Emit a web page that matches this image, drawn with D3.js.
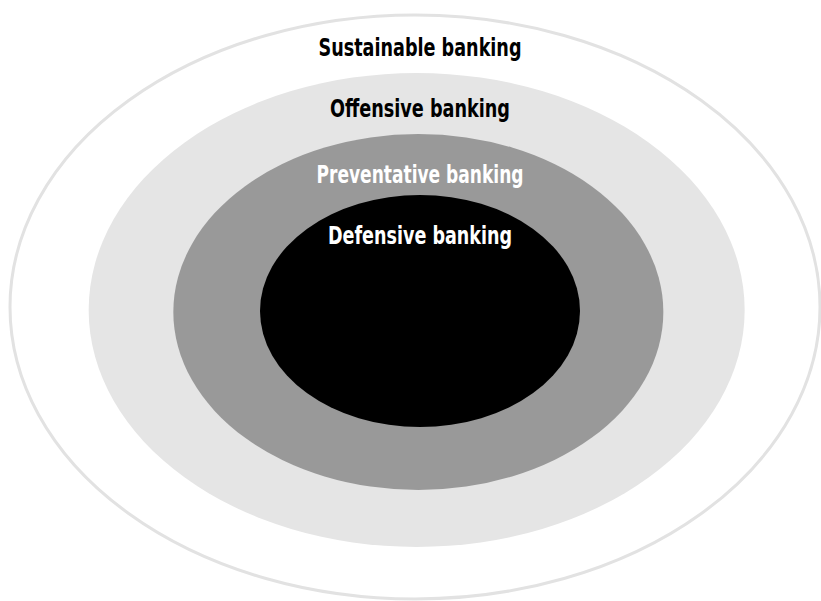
<!DOCTYPE html>
<html>
<head>
<meta charset="utf-8">
<script src="https://cdn.jsdelivr.net/npm/d3@7"></script>
<style>
  body { margin: 0; background: #fff; }
  .rotulo { font-family: "Liberation Sans Narrow", "DejaVu Sans Condensed", "Noto Sans", sans-serif; font-weight: bold; text-anchor: middle; }
</style>
</head>
<body>
<svg id="grafico"></svg>
<script>
// camadas de fora para dentro
const camadas = ['Sustainable banking', 'Offensive banking', 'Preventative banking', 'Defensive banking'];
const niveis = [4, 3, 2, 1];
const cores = ['#ffffff', '#e5e5e5', '#999999', '#000000'];
const coresTexto = ['#000000', '#000000', '#ffffff', '#ffffff'];

function criaDiagrama(parametros) {
  const svg = d3.select('#grafico')
    .attr('width', parametros.largura)
    .attr('height', parametros.altura);

  const raioX = d3.scaleLinear().domain([1, 2, 3, 4]).range([160, 245, 328, 405]);
  const raioY = d3.scaleLinear().domain([1, 2, 3, 4]).range([116, 178, 237, 292]);
  const centroX = d3.scaleLinear().domain([1, 4]).range([420, 415]);
  const centroY = d3.scaleLinear().domain([1, 2, 3, 4]).range([311, 312, 310, 307]);
  // topo do texto em relacao ao topo da elipse
  const base = d3.scaleLinear().domain([1, 2, 3, 4]).range([244, 183, 117, 56]);

  const dados = camadas.map((c, i) => ({ nome: c, nivel: niveis[i], cor: cores[i], corTexto: coresTexto[i] }));

  svg.selectAll('.elipse')
    .data(dados)
    .enter()
    .append('ellipse')
    .classed('elipse', true)
    .attr('cx', d => centroX(d.nivel))
    .attr('cy', d => centroY(d.nivel))
    .attr('rx', d => raioX(d.nivel))
    .attr('ry', d => raioY(d.nivel))
    .attr('fill', d => d.cor)
    .attr('stroke', d => d.nivel === 4 ? '#e2e2e2' : 'none')
    .attr('stroke-width', 3);

  svg.selectAll('.rotulo')
    .data(dados)
    .enter()
    .append('text')
    .classed('rotulo', true)
    .text(d => d.nome)
    .attr('x', 420)
    .attr('y', d => base(d.nivel))
    .attr('fill', d => d.corTexto)
    .attr('font-size', 24)
    .attr('textLength', d => ({ 4: 203, 3: 180, 2: 207, 1: 184 })[d.nivel])
    .attr('lengthAdjust', 'spacingAndGlyphs');
}

criaDiagrama({ largura: 821, altura: 601 });
</script>
</body>
</html>
